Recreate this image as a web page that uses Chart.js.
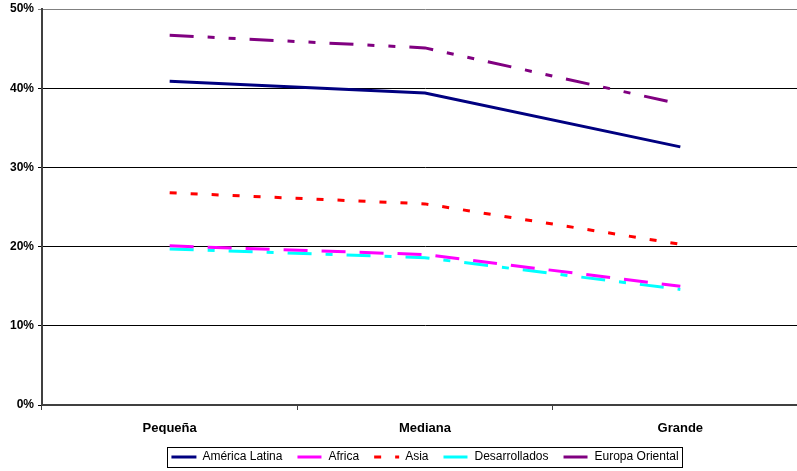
<!DOCTYPE html>
<html><head><meta charset="utf-8">
<script src="https://cdn.jsdelivr.net/npm/chart.js@4/dist/chart.umd.min.js"></script>
<style>
html,body{margin:0;padding:0;overflow:hidden;background:#fff;}
#wrap{width:808px;height:471px;position:relative;}
</style></head>
<body><div id="wrap"><canvas id="c" width="808" height="471"></canvas></div>
<script>
const categories = ['Pequeña', 'Mediana', 'Grande'];
const seriesNames = ['América Latina', 'Africa', 'Asia', 'Desarrollados', 'Europa Oriental'];
const americaLatina = [40.9, 39.4, 32.6];
const africa = [20.1, 19.0, 15.0];
const asia = [26.8, 25.4, 20.3];
const desarrollados = [19.7, 18.6, 14.6];
const europaOriental = [46.7, 45.1, 38.0];
const yTicks = [0, 10, 20, 30, 40, 50];

const FONT = "'Liberation Sans', Arial, sans-serif";
const LEGEND_SHIFT_X = 21, LEGEND_SHIFT_Y = 2;

const legendBorder = {
  id: 'legendBorder',
  beforeDraw(chart) {
    const lg = chart.legend;
    if (!lg || lg._shifted) return;
    lg.left += LEGEND_SHIFT_X; lg.right += LEGEND_SHIFT_X;
    lg.top += LEGEND_SHIFT_Y; lg.bottom += LEGEND_SHIFT_Y;
    (lg.legendHitBoxes || []).forEach(h => { h.left += LEGEND_SHIFT_X; h.top += LEGEND_SHIFT_Y; });
    lg._shifted = true;
  },
  afterDraw(chart) {
    const lg = chart.legend;
    if (!lg || !lg.legendHitBoxes || !lg.legendHitBoxes.length) return;
    let l = Infinity, r = -Infinity, t = Infinity, b = -Infinity;
    lg.legendHitBoxes.forEach(h => {
      l = Math.min(l, h.left); r = Math.max(r, h.left + h.width);
      t = Math.min(t, h.top); b = Math.max(b, h.top + h.height);
    });
    const ctx = chart.ctx;
    ctx.save();
    ctx.strokeStyle = '#000';
    ctx.lineWidth = 1;
    ctx.setLineDash([]);
    ctx.strokeRect(Math.round(l - 4) + 0.5, Math.round(t - 4) + 0.5, Math.round(r - l + 8), Math.round(b - t + 8));
    ctx.restore();
  }
};

const mk = (label, data, color, dash) => ({
  label, data, borderColor: color, backgroundColor: color,
  borderWidth: 3, borderDash: dash, pointRadius: 0, tension: 0, fill: false
});

new Chart(document.getElementById('c'), {
  type: 'line',
  data: {
    labels: categories,
    datasets: [
      mk(seriesNames[0], americaLatina, '#000080', []),
      mk(seriesNames[1], africa, '#FF00FF', [24, 14]),
      mk(seriesNames[2], asia, '#FF0000', [7, 14]),
      mk(seriesNames[3], desarrollados, '#00FFFF', [24, 14, 7, 14]),
      mk(seriesNames[4], europaOriental, '#800080', [24, 14, 7, 14, 7, 14])
    ]
  },
  options: {
    responsive: false,
    animation: false,
    layout: { padding: { top: 0, left: 0, right: 0, bottom: 0 } },
    plugins: {
      tooltip: { enabled: false },
      legend: {
        position: 'bottom',
        labels: {
          usePointStyle: true,
          pointStyle: 'line',
          pointStyleWidth: 25,
          boxHeight: 12,
          padding: 15,
          color: '#000',
          font: { family: FONT, size: 12 },
          generateLabels(chart) {
            const items = Chart.defaults.plugins.legend.labels.generateLabels(chart);
            items.forEach(it => {
              const ds = chart.data.datasets[it.datasetIndex];
              it.lineDash = ds.borderDash;
              it.lineWidth = 3;
              it.strokeStyle = ds.borderColor;
            });
            return items;
          }
        }
      }
    },
    scales: {
      x: {
        offset: true,
        grid: { offset: true, drawOnChartArea: false, drawTicks: true, tickLength: 5, color: '#404040' },
        border: { display: true, color: '#404040', width: 2 },
        ticks: { color: '#000', padding: 11, font: { family: FONT, size: 13, weight: 'bold' } },
        afterFit(s) { s.height = 29; }
      },
      y: {
        min: 0, max: 50,
        afterBuildTicks(s) { s.ticks = yTicks.map(v => ({ value: v })); },
        grid: {
          color: c => (c.tick && c.tick.value === 50) ? '#808080' : '#000',
          lineWidth: 1, tickLength: 4, drawTicks: true
        },
        border: { display: true, color: '#404040', width: 2 },
        ticks: {
          color: '#000', padding: 4,
          font: { family: FONT, size: 12, weight: 'bold', lineHeight: 0.85 },
          callback: v => v + '%'
        },
        afterFit(s) { s.width = 42; }
      }
    }
  },
  plugins: [legendBorder]
});
</script></body></html>
